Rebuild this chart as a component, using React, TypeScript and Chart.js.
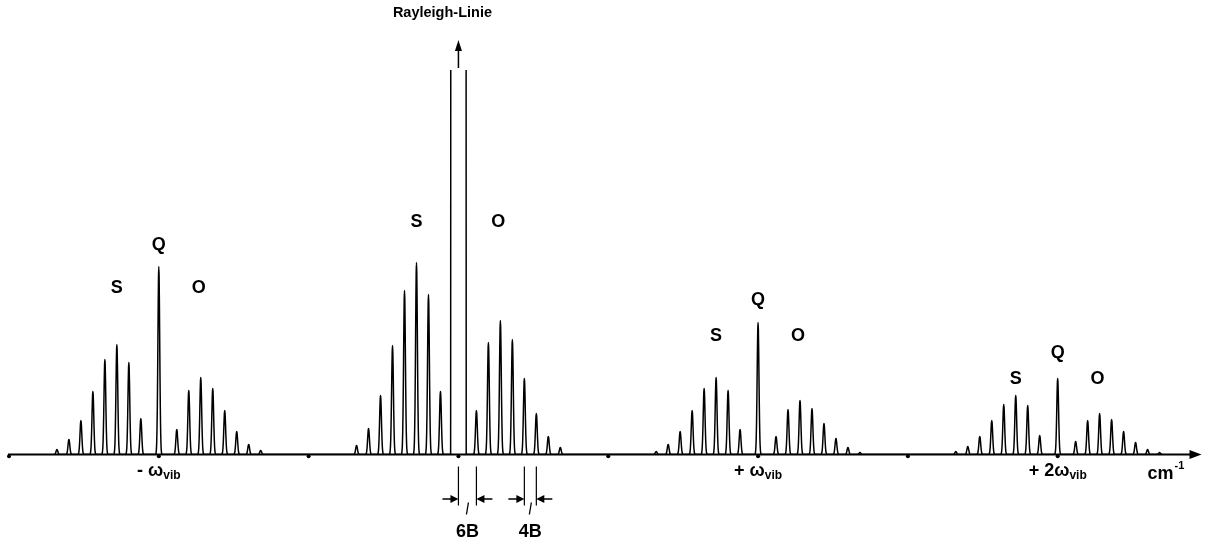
import React, { useEffect, useRef } from "react";
import { Chart, registerables } from "chart.js";

Chart.register(...registerables);

// ---------------- data ----------------
// x in units of the rotational constant B (omega_vib = 100 units), Rayleigh line at 0
const BAND_CENTERS = [-100, 0, 100, 200];
const Q_INTENSITY = [188, 1000, 132, 76]; // second entry: Rayleigh line (off scale)
const ROT_OFFSETS = [6, 10, 14, 18, 22, 26, 30, 34]; // 6B + 4B*J
const S_BRANCH_MINUS = [36, 92, 110, 95, 63, 34, 15, 5];
const O_BRANCH_MINUS = [25, 64, 77, 66, 44, 23, 10, 4];
const S_BRANCH_RAYLEIGH = [63, 160, 192, 164, 109, 59, 26, 9];
const O_BRANCH_RAYLEIGH = [44, 112, 134, 115, 76, 41, 18, 7];
const S_BRANCH_PLUS1 = [25, 64, 77, 66, 44, 23, 10, 3];
const O_BRANCH_PLUS1 = [18, 45, 54, 46, 31, 16, 7, 2];
const S_BRANCH_PLUS2 = [19, 49, 59, 50, 34, 18, 8, 3];
const O_BRANCH_PLUS2 = [13, 34, 41, 35, 23, 12, 5, 2];
const S_BRANCHES = [S_BRANCH_MINUS, S_BRANCH_RAYLEIGH, S_BRANCH_PLUS1, S_BRANCH_PLUS2];
const O_BRANCHES = [O_BRANCH_MINUS, O_BRANCH_RAYLEIGH, O_BRANCH_PLUS1, O_BRANCH_PLUS2];

const AXIS_TICKS = [-150, -100, -50, 0, 50, 100, 150, 200];
const AXIS_MIN = -150;
const AXIS_MAX = 248;
const Y_MAX = 384.5;

const TICK_LABEL_VALUES = [-100, 100, 200];
const TICK_LABEL_MAIN = ["- ω", "+ ω", "+ 2ω"];
const TICK_LABEL_SUB = ["vib", "vib", "vib"];

const BRANCH_LABEL_Q_Y = [210, null, 155, 102];
const BRANCH_LABEL_SO_Y = [166, 232, 118, 75];
const S_LABEL_DX = -14;
const O_LABEL_DX = 13.3;

const RAYLEIGH_HALF_WIDTH = 2.5;
const SPACING_MARKS = [
  { from: 0, to: 6, label: "6B" },
  { from: 22, to: 26, label: "4B" },
];

// peak line shape (gaussian)
const SIGMA = 0.3;
const PROFILE_HALF_SPAN = 1.0;
const PROFILE_STEP = 0.1;

type P = { x: number; y: number };

function buildSpectrum(): P[] {
  const peaks: { x: number; h: number; rayleigh?: boolean }[] = [];
  BAND_CENTERS.forEach((c, i) => {
    ROT_OFFSETS.forEach((o, j) => {
      peaks.push({ x: c - o, h: S_BRANCHES[i][j] });
      peaks.push({ x: c + o, h: O_BRANCHES[i][j] });
    });
    peaks.push({ x: c, h: Q_INTENSITY[i], rayleigh: i === 1 });
  });
  peaks.sort((a, b) => a.x - b.x);
  const n = Math.round(PROFILE_HALF_SPAN / PROFILE_STEP);
  const pts: P[] = [];
  for (const p of peaks) {
    if (p.rayleigh) {
      pts.push({ x: p.x - RAYLEIGH_HALF_WIDTH - 0.1, y: 0 });
      pts.push({ x: p.x - RAYLEIGH_HALF_WIDTH, y: p.h });
      pts.push({ x: p.x + RAYLEIGH_HALF_WIDTH, y: p.h });
      pts.push({ x: p.x + RAYLEIGH_HALF_WIDTH + 0.1, y: 0 });
    } else {
      for (let k = -n; k <= n; k++) {
        const o = k * PROFILE_STEP;
        const f = Math.abs(k) === n ? 0 : Math.exp(-(o * o) / (2 * SIGMA * SIGMA));
        pts.push({ x: p.x + o, y: p.h * f });
      }
    }
  }
  return pts;
}

const FONT = '"Liberation Sans", Arial, sans-serif';

function drawSubLabel(ctx: CanvasRenderingContext2D, cx: number, baseline: number, main: string, sub: string) {
  ctx.font = `bold 18px ${FONT}`;
  const w1 = ctx.measureText(main).width;
  ctx.font = `bold 12px ${FONT}`;
  const w2 = ctx.measureText(sub).width;
  const left = cx - (w1 + w2) / 2;
  ctx.textAlign = "left";
  ctx.textBaseline = "alphabetic";
  ctx.font = `bold 18px ${FONT}`;
  ctx.fillText(main, left, baseline);
  ctx.font = `bold 12px ${FONT}`;
  ctx.fillText(sub, left + w1, baseline + 3);
}

const overlayPlugin = {
  id: "overlay",
  afterDatasetsDraw(chart: any) {
    const { ctx, chartArea } = chart;
    const xs = chart.scales.x;
    const ys = chart.scales.y;
    const base = ys.getPixelForValue(0);
    ctx.save();
    ctx.fillStyle = "#000";
    ctx.strokeStyle = "#000";

    // x axis with arrow
    ctx.lineWidth = 2;
    ctx.beginPath();
    ctx.moveTo(xs.getPixelForValue(AXIS_MIN) - 1, base);
    ctx.lineTo(chartArea.right - 10, base);
    ctx.stroke();
    ctx.beginPath();
    ctx.moveTo(chartArea.right, base);
    ctx.lineTo(chartArea.right - 12, base - 4.5);
    ctx.lineTo(chartArea.right - 12, base + 4.5);
    ctx.closePath();
    ctx.fill();

    // tick dots
    for (const v of AXIS_TICKS) {
      ctx.beginPath();
      ctx.arc(xs.getPixelForValue(v), base + 1.8, 2, 0, Math.PI * 2);
      ctx.fill();
    }

    // tick labels
    TICK_LABEL_VALUES.forEach((v, i) => {
      drawSubLabel(ctx, xs.getPixelForValue(v), base + 21, TICK_LABEL_MAIN[i], TICK_LABEL_SUB[i]);
    });

    // unit label
    ctx.textAlign = "left";
    ctx.textBaseline = "alphabetic";
    ctx.font = `bold 18px ${FONT}`;
    const cmX = chartArea.right - 54;
    ctx.fillText("cm", cmX, base + 24);
    const cmW = ctx.measureText("cm").width;
    ctx.font = `bold 11px ${FONT}`;
    ctx.fillText("-1", cmX + cmW + 1, base + 14);

    // branch labels
    ctx.font = `bold 18px ${FONT}`;
    ctx.textAlign = "center";
    ctx.textBaseline = "middle";
    BAND_CENTERS.forEach((c, i) => {
      const so = BRANCH_LABEL_SO_Y[i];
      ctx.fillText("S", xs.getPixelForValue(c + S_LABEL_DX), ys.getPixelForValue(so));
      ctx.fillText("O", xs.getPixelForValue(c + O_LABEL_DX), ys.getPixelForValue(so));
      const q = BRANCH_LABEL_Q_Y[i];
      if (q !== null) ctx.fillText("Q", xs.getPixelForValue(c), ys.getPixelForValue(q) + 1);
    });

    // Rayleigh arrow + label
    const rx = xs.getPixelForValue(BAND_CENTERS[1]);
    ctx.lineWidth = 1.5;
    ctx.beginPath();
    ctx.moveTo(rx, chartArea.top - 2);
    ctx.lineTo(rx, chartArea.top - 22);
    ctx.stroke();
    ctx.beginPath();
    ctx.moveTo(rx, chartArea.top - 30);
    ctx.lineTo(rx - 3.5, chartArea.top - 19);
    ctx.lineTo(rx + 3.5, chartArea.top - 19);
    ctx.closePath();
    ctx.fill();
    ctx.font = `bold 14.5px ${FONT}`;
    ctx.textAlign = "center";
    ctx.textBaseline = "alphabetic";
    ctx.fillText("Rayleigh-Linie", rx - 16, 17);

    // spacing marks 6B / 4B
    for (const m of SPACING_MARKS) {
      const xl = xs.getPixelForValue(m.from);
      const xr = xs.getPixelForValue(m.to);
      ctx.lineWidth = 1.2;
      ctx.beginPath();
      ctx.moveTo(xl, base + 12);
      ctx.lineTo(xl, base + 51);
      ctx.moveTo(xr, base + 12);
      ctx.lineTo(xr, base + 51);
      ctx.stroke();
      const ay = base + 44.5;
      ctx.lineWidth = 1.5;
      ctx.beginPath();
      ctx.moveTo(xl - 16, ay);
      ctx.lineTo(xl - 6, ay);
      ctx.moveTo(xr + 16, ay);
      ctx.lineTo(xr + 6, ay);
      ctx.stroke();
      ctx.beginPath();
      ctx.moveTo(xl, ay);
      ctx.lineTo(xl - 8, ay - 4);
      ctx.lineTo(xl - 8, ay + 4);
      ctx.closePath();
      ctx.fill();
      ctx.beginPath();
      ctx.moveTo(xr, ay);
      ctx.lineTo(xr + 8, ay - 4);
      ctx.lineTo(xr + 8, ay + 4);
      ctx.closePath();
      ctx.fill();
      const mid = (xl + xr) / 2;
      ctx.lineWidth = 1.3;
      ctx.beginPath();
      ctx.moveTo(mid + 1, base + 48);
      ctx.lineTo(mid - 1, base + 60);
      ctx.stroke();
      ctx.font = `bold 18px ${FONT}`;
      ctx.textAlign = "center";
      ctx.textBaseline = "alphabetic";
      ctx.fillText(m.label, mid, base + 82);
    }
    ctx.restore();
  },
};

export default function App() {
  const ref = useRef<HTMLCanvasElement | null>(null);
  useEffect(() => {
    if (!ref.current) return;
    const chart = new Chart(ref.current, {
      type: "line",
      data: {
        datasets: [
          {
            data: buildSpectrum(),
            borderColor: "#000",
            borderWidth: 1.5,
            borderJoinStyle: "round",
            cubicInterpolationMode: "monotone",
            pointRadius: 0,
            fill: false,
          },
        ],
      },
      options: {
        animation: false,
        responsive: false,
        devicePixelRatio: 1,
        parsing: false as any,
        layout: { padding: { left: 9, right: 4.5, top: 70, bottom: 88.5 } },
        scales: {
          x: { type: "linear", min: AXIS_MIN, max: AXIS_MAX, display: false },
          y: { type: "linear", min: 0, max: Y_MAX, display: false },
        },
        plugins: { legend: { display: false }, tooltip: { enabled: false } },
      },
      plugins: [overlayPlugin],
    });
    return () => chart.destroy();
  }, []);
  return (
    <div style={{ position: "fixed", left: 0, top: 0, width: 1206, height: 543, background: "#fff" }}>
      <canvas ref={ref} width={1206} height={543} style={{ display: "block" }} />
    </div>
  );
}
